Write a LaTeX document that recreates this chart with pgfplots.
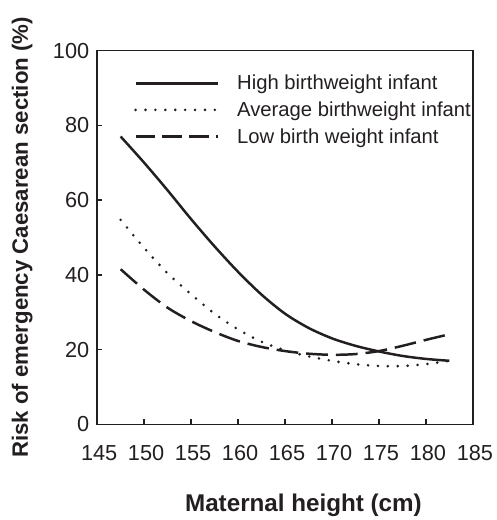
\documentclass[border=0pt]{standalone}
\usepackage{fontspec}
\setmainfont{Liberation Sans}
\usepackage{pgfplots}
\pgfplotsset{compat=1.18}
\definecolor{ink}{RGB}{35,31,32}
\begin{document}
\begin{tikzpicture}
\begin{axis}[
  scale only axis, width=379bp, height=377bp,
  xmin=145, xmax=185, ymin=0, ymax=100,
  xtick={145,150,...,185}, ytick={0,20,...,100},
  tick align=inside, xtick pos=bottom, ytick pos=left,
  major tick length=5bp,
  axis line style={line width=1.6bp, draw=ink},
  every tick/.style={line width=1.4bp, draw=ink},
  tick label style={font=\fontsize{22}{26}\selectfont, text=ink},
  /pgf/number format/assume math mode=true,
  /pgf/number format/1000 sep={},
  xticklabel style={yshift=-18bp, xshift=2bp},
  yticklabel style={xshift=-4.5bp},
  xlabel={Maternal height (cm)},
  ylabel={Risk of emergency Caesarean section (\%)},
  xlabel style={font=\bfseries\fontsize{24.5}{28}\selectfont, text=ink, at={([yshift=-88bp]axis description cs:0.549,0)}, anchor=base},
  ylabel style={font=\bfseries\fontsize{22.5}{26}\selectfont, text=ink, at={([xshift=-70bp]axis description cs:0,0.5)}, anchor=base, rotate=0},
  legend style={draw=none, fill=none, font=\fontsize{20.5}{24}\selectfont, text=ink,
    at={(axis description cs:0.09,0.945)}, anchor=north west, row sep=6.5bp,
    cells={anchor=west},
    /tikz/every odd column/.append style={column sep=16bp}},
  legend image code/.code={\draw[#1] (0bp,0bp) -- (83bp,0bp);},
  legend cell align=left,
]
\addplot[ink, line width=2.5bp, smooth] coordinates {
(147.5,77) (150,70) (152.5,62.6) (155,54.9) (157.5,47.6) (160,40.8) (162.5,34.7) (165,29.6) (167.5,25.8) (170,23) (172.5,21) (175,19.5) (177.5,18.3) (180,17.5) (182.5,17)
};
\addlegendentry{High birthweight infant}
\addplot[ink, line width=2.9bp, line cap=round, dash pattern=on 0bp off 10bp, smooth] coordinates {
(147.5,54.7) (150,47.2) (152.5,40.4) (155,34.8) (157.5,29.6) (160,25.4) (162.5,22.1) (165,19.8) (167.5,18.2) (170,17) (172.5,16.1) (175,15.6) (177.5,15.6) (180,16.1) (182.5,17)
};
\addlegendentry{Average birthweight infant}
\addplot[ink, line width=2.5bp, dash pattern=on 22bp off 8bp, smooth,
  legend image post style={dash pattern=on 20bp off 7bp}] coordinates {
(147.5,41.5) (150,36) (152.5,31.2) (155,27.6) (157.5,24.7) (160,22.3) (162.5,20.7) (165,19.6) (167.5,18.9) (170,18.6) (172.5,18.8) (175,19.6) (177.5,21) (180,22.6) (182,23.8)
};
\addlegendentry{Low birth weight infant}
\end{axis}
\path ([xshift=-98bp,yshift=-92bp]current axis.south west) rectangle ([xshift=401bp,yshift=428bp]current axis.south west);
\end{tikzpicture}
\end{document}
